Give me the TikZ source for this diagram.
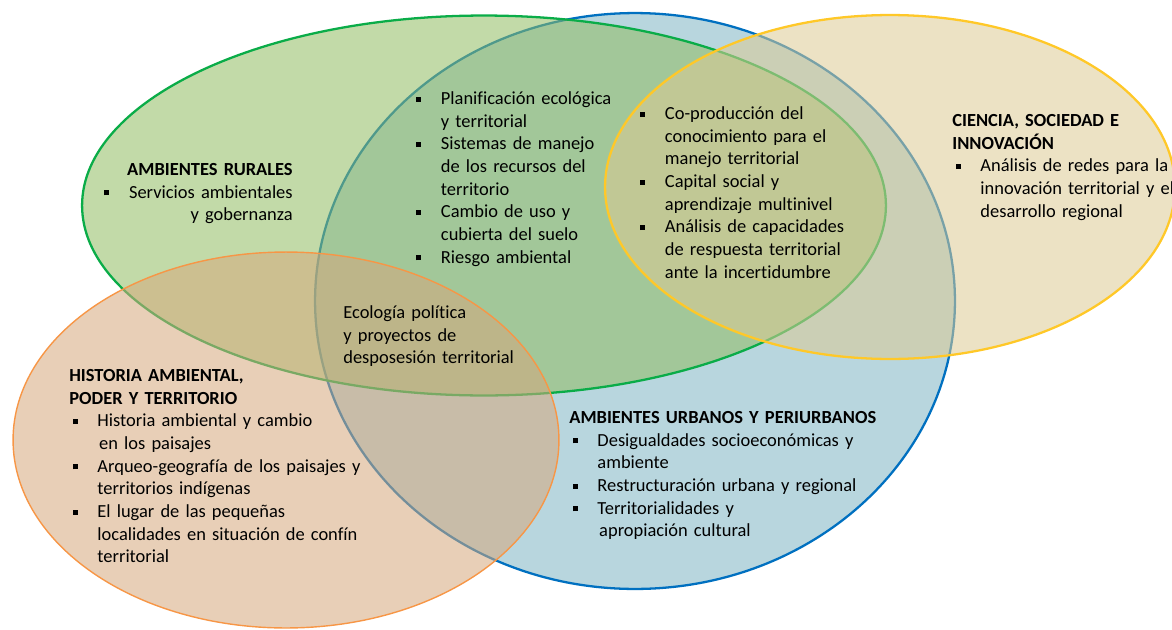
\documentclass[tikz,border=0pt]{standalone}
\usepackage{fontspec}
\setmainfont{Carlito}[Ligatures=CommonOff]
\definecolor{bluline}{RGB}{0,112,192}
\definecolor{blufill}{RGB}{126,180,195}
\definecolor{grnline}{RGB}{10,172,72}
\definecolor{grnfill}{RGB}{144,188,97}
\definecolor{ylwline}{RGB}{255,200,40}
\definecolor{ylwfill}{RGB}{220,202,148}
\definecolor{orgline}{RGB}{247,150,70}
\definecolor{orgfill}{RGB}{213,168,124}
\newcommand{\sq}{\rule[1.6pt]{2.8pt}{2.8pt}}
\newcommand{\itm}{\makebox[14pt][l]{\sq}}
\newcommand{\ind}{\hspace*{14pt}}

\begin{document}
\begin{tikzpicture}[x=0.02cm,y=-0.02cm,
  blob/.style={line width=1.3pt,fill opacity=0.55},
  txt/.style={inner sep=0pt,text width=6.4cm,align=left,anchor=base west,
    font=\fontsize{10.5}{12.9}\selectfont}]
\useasboundingbox (0,0) rectangle (1172,629);
\draw[blob,draw=bluline,fill=blufill] (635,301) ellipse [x radius=6.4cm,y radius=5.76cm];
\draw[blob,draw=grnline,fill=grnfill] (484,205.5) ellipse [x radius=8.04cm,y radius=3.8cm];
\draw[blob,draw=ylwline,fill=ylwfill] (890,187) ellipse [x radius=5.7cm,y radius=3.44cm];
\draw[blob,draw=orgline,fill=orgfill,line width=0.8pt] (286,440) ellipse [x radius=5.46cm,y radius=3.76cm];
\node[txt,align=right,anchor=base east] (rural) at (293,175.5)
  {\textbf{AMBIENTES RURALES}\\\itm Servicios ambientales\\y gobernanza};
\node[txt] (manejo) at (416,104.5)
  {\itm Planificación ecológica\\\ind y territorial\\\itm Sistemas de manejo\\\ind de los recursos del\\\ind territorio\\\itm Cambio de uso y\\\ind cubierta del suelo\\\itm Riesgo ambiental};
\node[txt] (coprod) at (640,119.5)
  {\itm Co-producción del\\\ind conocimiento para el\\\ind manejo territorial\\\itm Capital social y\\\ind aprendizaje multinivel\\\itm Análisis de capacidades\\\ind de respuesta territorial\\\ind ante la incertidumbre};
\node[txt] (ciencia) at (952,126.5)
  {\textbf{CIENCIA, SOCIEDAD E}\\\textbf{INNOVACIÓN}\\\hspace*{2pt}\itm Análisis de redes para la\\\hspace*{2pt}\ind innovación territorial y el\\\hspace*{2pt}\ind desarrollo regional};
\node[txt] (ecopol) at (343,318.5)
  {Ecología política\\y proyectos de\\desposesión territorial};
\node[txt] (historia) at (69,381.5)
  {\textbf{HISTORIA AMBIENTAL,}\\\textbf{PODER Y TERRITORIO}\\\hspace*{2pt}\itm Historia ambiental y cambio\\\hspace*{3pt}\ind en los paisajes\\\hspace*{2pt}\itm Arqueo-geografía de los paisajes y\\\hspace*{2pt}\ind territorios indígenas\\\hspace*{2pt}\itm El lugar de las pequeñas\\\hspace*{2pt}\ind localidades en situación de confín\\\hspace*{2pt}\ind territorial};
\node[txt] (urbanos) at (569,423.5)
  {\textbf{AMBIENTES URBANOS Y PERIURBANOS}\\\hspace*{2pt}\itm Desigualdades socioeconómicas y\\\hspace*{2pt}\ind ambiente\\\hspace*{2pt}\itm Restructuración urbana y regional\\\hspace*{2pt}\itm Territorialidades y\\\hspace*{3pt}\ind apropiación cultural};
\end{tikzpicture}
\end{document}
